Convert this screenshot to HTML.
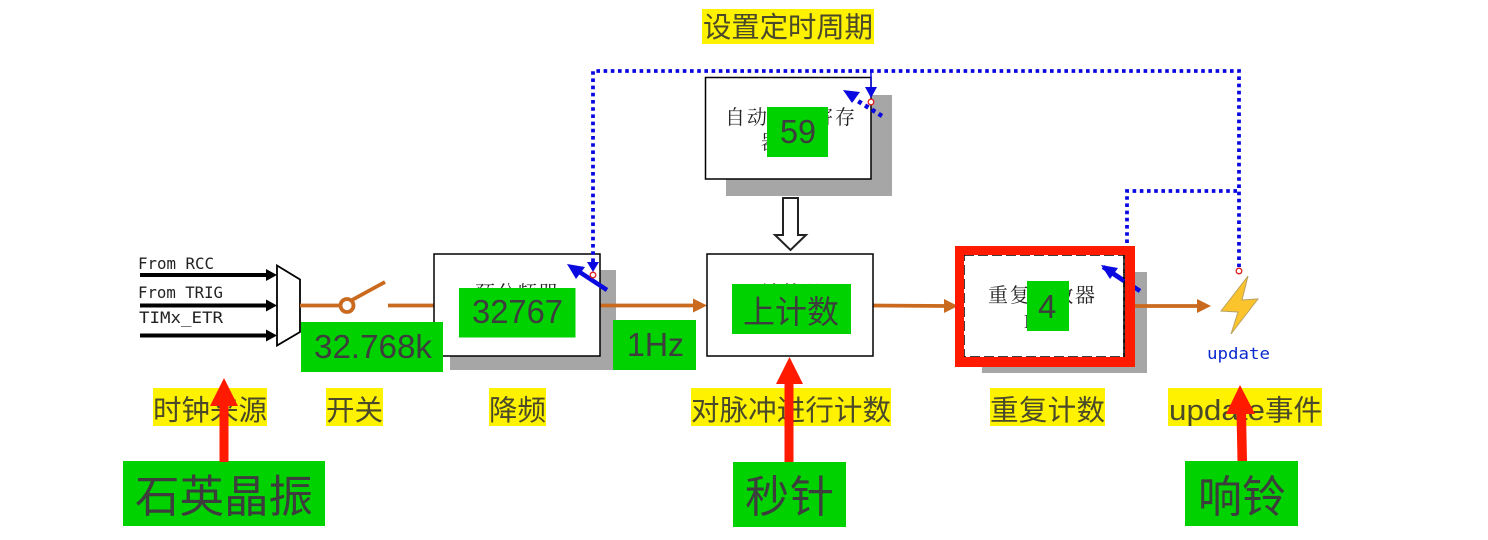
<!DOCTYPE html>
<html lang="zh">
<head>
<meta charset="utf-8">
<style>
html,body{margin:0;padding:0;background:#fff;width:1488px;height:540px;overflow:hidden}
svg{display:block}
.y{font-family:"Liberation Sans","Noto Sans CJK SC",sans-serif;font-size:28.5px;fill:#4a4a2a}
.g{font-family:"Liberation Sans","Noto Sans CJK SC",sans-serif;fill:#3d3d3d}
.s{font-family:"Liberation Serif","Noto Serif CJK SC",serif;font-size:20px;fill:#222}
.m{font-family:"DejaVu Sans Mono","Liberation Mono",monospace;font-size:16px;fill:#222}
</style>
</head>
<body>
<svg width="1488" height="540" viewBox="0 0 1488 540" xmlns="http://www.w3.org/2000/svg">
<!-- shadows -->
<rect x="450" y="270" width="166" height="100" fill="#a6a6a6"/>
<rect x="726" y="95" width="166" height="101" fill="#a6a6a6"/>
<rect x="982" y="272" width="165" height="101" fill="#a6a6a6"/>

<!-- input lines -->
<g stroke="#000" stroke-width="4" fill="#000">
<line x1="140" y1="275" x2="268" y2="275"/>
<line x1="140" y1="305.500" x2="268" y2="305.500"/>
<line x1="140" y1="335.500" x2="268" y2="335.500"/>
</g>
<g fill="#000">
<polygon points="266,269 277,275 266,281"/>
<polygon points="266,299.500 277,305.500 266,311.500"/>
<polygon points="266,329.500 277,335.500 266,341.500"/>
</g>
<text class="m" x="138" y="269" textLength="76" lengthAdjust="spacingAndGlyphs">From RCC</text>
<text class="m" x="138" y="298" textLength="85" lengthAdjust="spacingAndGlyphs">From TRIG</text>
<text class="m" x="139" y="323" textLength="84" lengthAdjust="spacingAndGlyphs">TIMx_ETR</text>
<polygon points="277,265.500 300,279.500 300,332 277,345.500" fill="#fff" stroke="#000" stroke-width="1.800"/>

<!-- switch and flow lines -->
<g stroke="#c96a1f" stroke-width="3.800" fill="none">
<line x1="300" y1="305.500" x2="340" y2="305.500"/>
<line x1="352" y1="300" x2="385" y2="282"/>
<line x1="388" y1="305.500" x2="434" y2="305.500"/>
<circle cx="347" cy="305.500" r="6.500" fill="#fff"/>
<line x1="600" y1="305.500" x2="696" y2="305.500"/>
<line x1="872" y1="305.500" x2="948" y2="306"/>
<line x1="1135" y1="306" x2="1200" y2="306"/>
</g>
<g fill="#c96a1f">
<polygon points="693,298.500 707,305.500 693,312.500"/>
<polygon points="944,299 958,306 944,313"/>
<polygon points="1197,299 1211,306 1197,313"/>
</g>

<!-- boxes -->
<rect x="434" y="254" width="166" height="102" fill="#fff" stroke="#000" stroke-width="1.500"/>
<rect x="705.500" y="77.500" width="165.500" height="101.500" fill="#fff" stroke="#000" stroke-width="1.500"/>
<rect x="707" y="254" width="166" height="102" fill="#fff" stroke="#000" stroke-width="1.500"/>
<text class="s" x="475" y="300" textLength="83">预分频器</text>
<text class="s" x="725" y="124" textLength="130">自动重装寄存</text>
<text class="s" x="761" y="149">器</text>
<text class="s" x="761" y="300" textLength="60">计数器</text>

<!-- hollow arrow -->
<polygon points="783,198 798,198 798,235 806,235 790.500,250 775,235 783,235" fill="#fff" stroke="#222" stroke-width="2"/>

<!-- repeat box -->
<rect x="964" y="255" width="160" height="102" fill="#fff"/>
<text class="s" x="1024" y="328">R</text>
<text class="s" x="988" y="302" textLength="107">重复计数器</text>
<line x1="1140" y1="291" x2="1111" y2="272" stroke="#0a0ae0" stroke-width="4.500"/>
<polygon points="1101,265 1118,268 1110,279" fill="#0a0ae0"/>
<rect x="964" y="255" width="160" height="102" fill="none" stroke="#000" stroke-width="1.500" stroke-dasharray="10 4"/>
<rect x="955" y="246" width="180" height="9" fill="#ff1a00"/>
<rect x="955" y="357" width="180" height="10" fill="#ff1a00"/>
<rect x="955" y="246" width="9" height="121" fill="#ff1a00"/>
<rect x="1125" y="246" width="10" height="121" fill="#ff1a00"/>
<line x1="1103" y1="267" x2="1124" y2="281" stroke="#0a0ae0" stroke-width="4.500"/>
<line x1="1124" y1="255" x2="1124" y2="357" stroke="#000" stroke-width="1.500" stroke-dasharray="10 4"/>

<!-- blue dotted -->
<g fill="none" stroke="#0a0ae0" stroke-width="3.800" stroke-dasharray="3.600 3.600">
<path d="M593 262V71H1239V267"/>
<path d="M1127 243V191H1239"/>
</g>
<line x1="871" y1="71" x2="871" y2="88" stroke="#0a0ae0" stroke-width="1.500"/>
<polygon points="587,262 599,262 593,272" fill="#0a0ae0"/>
<polygon points="865,87 877,87 871,98" fill="#0a0ae0"/>
<line x1="607" y1="290" x2="578" y2="271" stroke="#0a0ae0" stroke-width="4.500"/>
<polygon points="567,264 585,267 576,279" fill="#0a0ae0"/>
<line x1="882" y1="116" x2="853" y2="98" stroke="#0a0ae0" stroke-width="4.500" stroke-dasharray="4 4"/>
<polygon points="843,90 860,92 852,103" fill="#0a0ae0"/>
<g fill="#fff" stroke="#e02020" stroke-width="1.300">
<circle cx="593" cy="275" r="2.800"/>
<circle cx="871" cy="102" r="2.800"/>
<circle cx="1239" cy="271" r="2.800"/>
</g>

<!-- lightning -->
<polygon points="1248,276 1221,311 1238,312 1231,334 1258,299 1242,300" fill="#fcc42c" stroke="#b9a060" stroke-width="1"/>
<text class="m" x="1207" y="359" textLength="63" lengthAdjust="spacingAndGlyphs" style="fill:#0a2ad0">update</text>

<!-- green overlays -->
<g fill="#00d200">
<rect x="301" y="322" width="142" height="50"/>
<rect x="459" y="288" width="116.500" height="49.500"/>
<rect x="613" y="320" width="83" height="50"/>
<rect x="767" y="107" width="61" height="50"/>
<rect x="732" y="284" width="119" height="50"/>
<rect x="1027" y="281" width="42" height="50"/>
<rect x="123" y="461" width="202" height="65"/>
<rect x="733" y="462" width="113" height="65"/>
<rect x="1185" y="461" width="113" height="65"/>
</g>
<g class="g" font-size="33">
<text x="314" y="358" textLength="118" lengthAdjust="spacingAndGlyphs">32.768k</text>
<text x="472" y="323" textLength="91" lengthAdjust="spacingAndGlyphs">32767</text>
<text x="627" y="356" textLength="57" lengthAdjust="spacingAndGlyphs">1Hz</text>
<text x="780" y="143" textLength="36" lengthAdjust="spacingAndGlyphs">59</text>
<text x="1038" y="318">4</text>
<text x="743" y="323" font-size="32" textLength="96">上计数</text>
</g>
<g class="g" font-size="44">
<text x="135" y="512" font-size="44.500" textLength="178">石英晶振</text>
<text x="745" y="512" textLength="89">秒针</text>
<text x="1198" y="512" textLength="88">响铃</text>
</g>

<!-- yellow labels -->
<g fill="#fff200">
<rect x="702" y="9" width="172" height="35"/>
<rect x="153" y="388" width="114" height="38"/>
<rect x="326" y="388" width="57" height="38"/>
<rect x="489" y="388" width="57" height="38"/>
<rect x="691" y="388" width="200" height="38"/>
<rect x="990" y="388" width="115" height="38"/>
<rect x="1168" y="388" width="154" height="38"/>
</g>
<text class="y" x="703" y="37" textLength="170">设置定时周期</text>
<text class="y" x="153" y="420" textLength="114">时钟来源</text>
<text class="y" x="326" y="420" textLength="57">开关</text>
<text class="y" x="489" y="420" textLength="57">降频</text>
<text class="y" x="691" y="420" textLength="200">对脉冲进行计数</text>
<text class="y" x="990" y="420" textLength="115">重复计数</text>
<text class="y" x="1169" y="420" textLength="96" lengthAdjust="spacingAndGlyphs">update</text>
<text class="y" x="1265" y="420" textLength="57">事件</text>

<!-- red arrows -->
<g fill="#ff1a00">
<rect x="219.500" y="404" width="9" height="58"/>
<polygon points="224,378 238,406 210,406"/>
<rect x="784.500" y="381" width="9" height="81"/>
<polygon points="789.500,357 803,384 776,384"/>
<polygon points="1236.500,412 1246,412 1247,461 1237.500,461"/>
<polygon points="1240,385 1255,414 1226,414"/>
</g>
</svg>
</body>
</html>
